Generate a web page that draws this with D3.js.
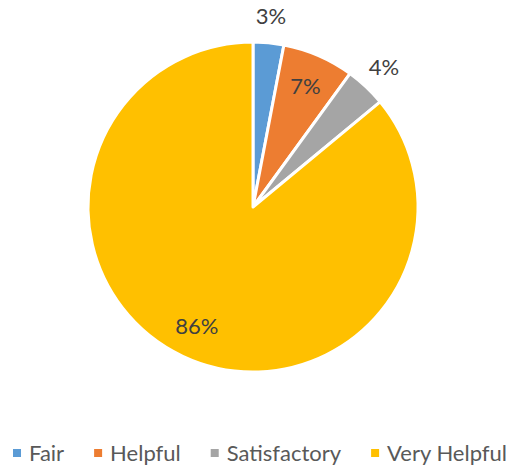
<!DOCTYPE html>
<html>
<head>
<meta charset="utf-8">
<script src="https://cdn.jsdelivr.net/npm/d3@7"></script>
<style>
  body { margin: 0; background: #fff; }
  text { font-family: Lato, "Open Sans", sans-serif; }
</style>
</head>
<body>
<script>
/* ------------------------------- chart data ------------------------------- */
const categories = ["Fair", "Helpful", "Satisfactory", "Very Helpful"];
const values = [3, 7, 4, 86];
const colors = ["#5b9bd5", "#ed7d31", "#a5a5a5", "#ffc000"];

/* ----------------------------- document sizes ----------------------------- */
const width = 508, height = 468;
const cx = 253, cy = 207, radius = 165;

const svg = d3.select("body").append("svg")
    .attr("width", width).attr("height", height);

//pie layout, starting at 12 o'clock, clockwise, in data order
const pie = d3.pie().sort(null).value(d => d)(values);
const arc = d3.arc().innerRadius(0).outerRadius(radius);
const inArc = d3.arc().innerRadius(radius * 0.8).outerRadius(radius * 0.8);
const outArc = d3.arc().innerRadius(radius * 1.16).outerRadius(radius * 1.16);

const g = svg.append("g").attr("transform", `translate(${cx},${cy})`);

g.selectAll("path").data(pie).enter().append("path")
    .attr("d", arc)
    .attr("fill", (d, i) => colors[i])
    .attr("stroke", "#fff")
    .attr("stroke-width", 3)
    .attr("stroke-linejoin", "round");

//percent labels: small slices outside, big ones inside
g.selectAll("text.lbl").data(pie).enter().append("text")
    .attr("class", "lbl")
    .attr("transform", d => {
        const c = d.data < 5 ? outArc.centroid(d) : inArc.centroid(d);
        return `translate(${c[0]},${c[1]})`;
    })
    .attr("text-anchor", "middle")
    .attr("dy", "0.35em")
    .style("font-size", "22px")
    .style("fill", "#404040")
    .text(d => d.data + "%");

/* --------------------------------- legend --------------------------------- */
const legend = svg.append("g");
const items = legend.selectAll("g").data(categories).enter().append("g");
items.append("rect")
    .attr("width", 8).attr("height", 8)
    .attr("y", 449)
    .attr("fill", (d, i) => colors[i]);
items.append("text")
    .attr("x", 16).attr("y", 461)
    .style("font-size", "22px")
    .style("fill", "#595959")
    .text(d => d);

//lay the items out in a row, centred under the plot
const gap = 30;
let x = 0;
const offsets = [];
items.each(function () {
    offsets.push(x);
    const w = 16 + d3.select(this).select("text").node().getComputedTextLength();
    x += w + gap;
});
const total = x - gap;
const start = 260 - total / 2;
items.attr("transform", (d, i) => `translate(${start + offsets[i]},0)`);
</script>
</body>
</html>
